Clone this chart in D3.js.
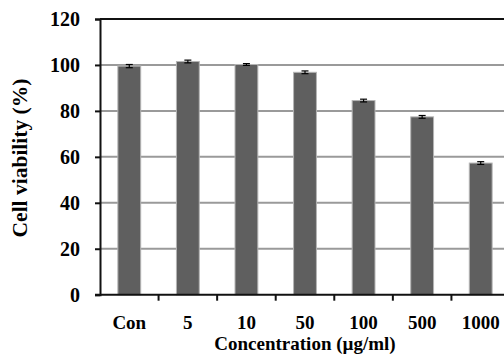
<!DOCTYPE html>
<html>
<head>
<meta charset="utf-8">
<script src="https://cdn.jsdelivr.net/npm/d3@7"></script>
<style>
  html, body { margin: 0; padding: 0; background: #fff; }
  svg { display: block; }
  svg text { font-family: "Liberation Serif", "Times New Roman", serif !important; font-weight: bold; fill: #000; }
</style>
</head>
<body>
<svg id="chart" width="504" height="355"></svg>
<script>
// Cell viability after treatment at each concentration
const categories = ["Con", "5", "10", "50", "100", "500", "1000"];
const viability = [99.5, 101.5, 100.2, 96.8, 84.5, 77.4, 57.3];
const errors = [0.7, 0.6, 0.4, 0.6, 0.6, 0.6, 0.6];
const yTicks = [0, 20, 40, 60, 80, 100, 120];

const svg = d3.select("#chart");
const plotLeft = 100, plotRight = 510, plotTop = 19, plotBottom = 294.7;

const x = d3.scaleBand().domain(categories).range([plotLeft, plotRight])
  .paddingInner(0.61).paddingOuter(0.305);
const y = d3.scaleLinear().domain([0, 120]).range([plotBottom, plotTop]);

// Horizontal gridlines
svg.append("g").selectAll("line")
  .data(yTicks.filter(d => d > 0 && d < 120))
  .join("line")
  .attr("x1", plotLeft).attr("x2", 504)
  .attr("y1", d => y(d)).attr("y2", d => y(d))
  .attr("stroke", "#9a9a9a").attr("stroke-width", 2);

// Top border of the plot area
svg.append("line")
  .attr("x1", plotLeft).attr("x2", 504)
  .attr("y1", y(120)).attr("y2", y(120))
  .attr("stroke", "#111").attr("stroke-width", 2);

// Bars
svg.append("g").selectAll("rect")
  .data(categories)
  .join("rect")
  .attr("x", d => x(d))
  .attr("width", x.bandwidth())
  .attr("y", (d, i) => y(viability[i]))
  .attr("height", (d, i) => y(0) - y(viability[i]))
  .attr("fill", "#5f5f5f")
  .attr("stroke", "#b5b5b5").attr("stroke-width", 1);

// Error bars
const eb = svg.append("g").attr("stroke", "#000").attr("stroke-width", 1.2);
categories.forEach((c, i) => {
  const cx = x(c) + x.bandwidth() / 2;
  const y1 = y(viability[i] + errors[i]), y2 = y(viability[i] - errors[i]);
  eb.append("line").attr("x1", cx).attr("x2", cx).attr("y1", y1).attr("y2", y2);
  eb.append("line").attr("x1", cx - 3.5).attr("x2", cx + 3.5).attr("y1", y1).attr("y2", y1);
  eb.append("line").attr("x1", cx - 3.5).attr("x2", cx + 3.5).attr("y1", y2).attr("y2", y2);
});

// Y axis
const yAxis = svg.append("g")
  .attr("transform", `translate(${plotLeft},0)`)
  .call(d3.axisLeft(y).tickValues(yTicks).tickSize(5).tickPadding(15))
  .attr("font-family", "Liberation Serif")
  .attr("font-size", 20)
  .attr("font-weight", "bold");
yAxis.select(".domain").attr("stroke", "#111").attr("stroke-width", 2);
yAxis.selectAll(".tick line").attr("stroke", "#111").attr("stroke-width", 2);

// X axis: ticks at band boundaries
const xAxisG = svg.append("g").attr("transform", `translate(0,${plotBottom})`);
xAxisG.append("line").attr("x1", plotLeft - 5).attr("x2", 504)
  .attr("stroke", "#111").attr("stroke-width", 2);
const step = x.step();
const boundaries = categories.map(c => x(c) - x.paddingInner() * step / 2).slice(1);
xAxisG.selectAll(".xt").data(boundaries).join("line")
  .attr("x1", d => d).attr("x2", d => d).attr("y1", 0).attr("y2", 6)
  .attr("stroke", "#111").attr("stroke-width", 2);
xAxisG.selectAll(".xl").data(categories).join("text")
  .attr("x", d => x(d) + x.bandwidth() / 2)
  .attr("y", 34.5)
  .attr("text-anchor", "middle")
  .style("font-size", "19px")
  .text(d => d);

// Axis titles
svg.append("text")
  .attr("x", (plotLeft + plotRight) / 2).attr("y", 350)
  .attr("text-anchor", "middle")
  .style("font-size", "19px")
  .text("Concentration (µg/ml)");

svg.append("text")
  .attr("transform", "translate(27,158) rotate(-90)")
  .attr("text-anchor", "middle")
  .style("font-size", "21.5px")
  .text("Cell viability (%)");
</script>
</body>
</html>
